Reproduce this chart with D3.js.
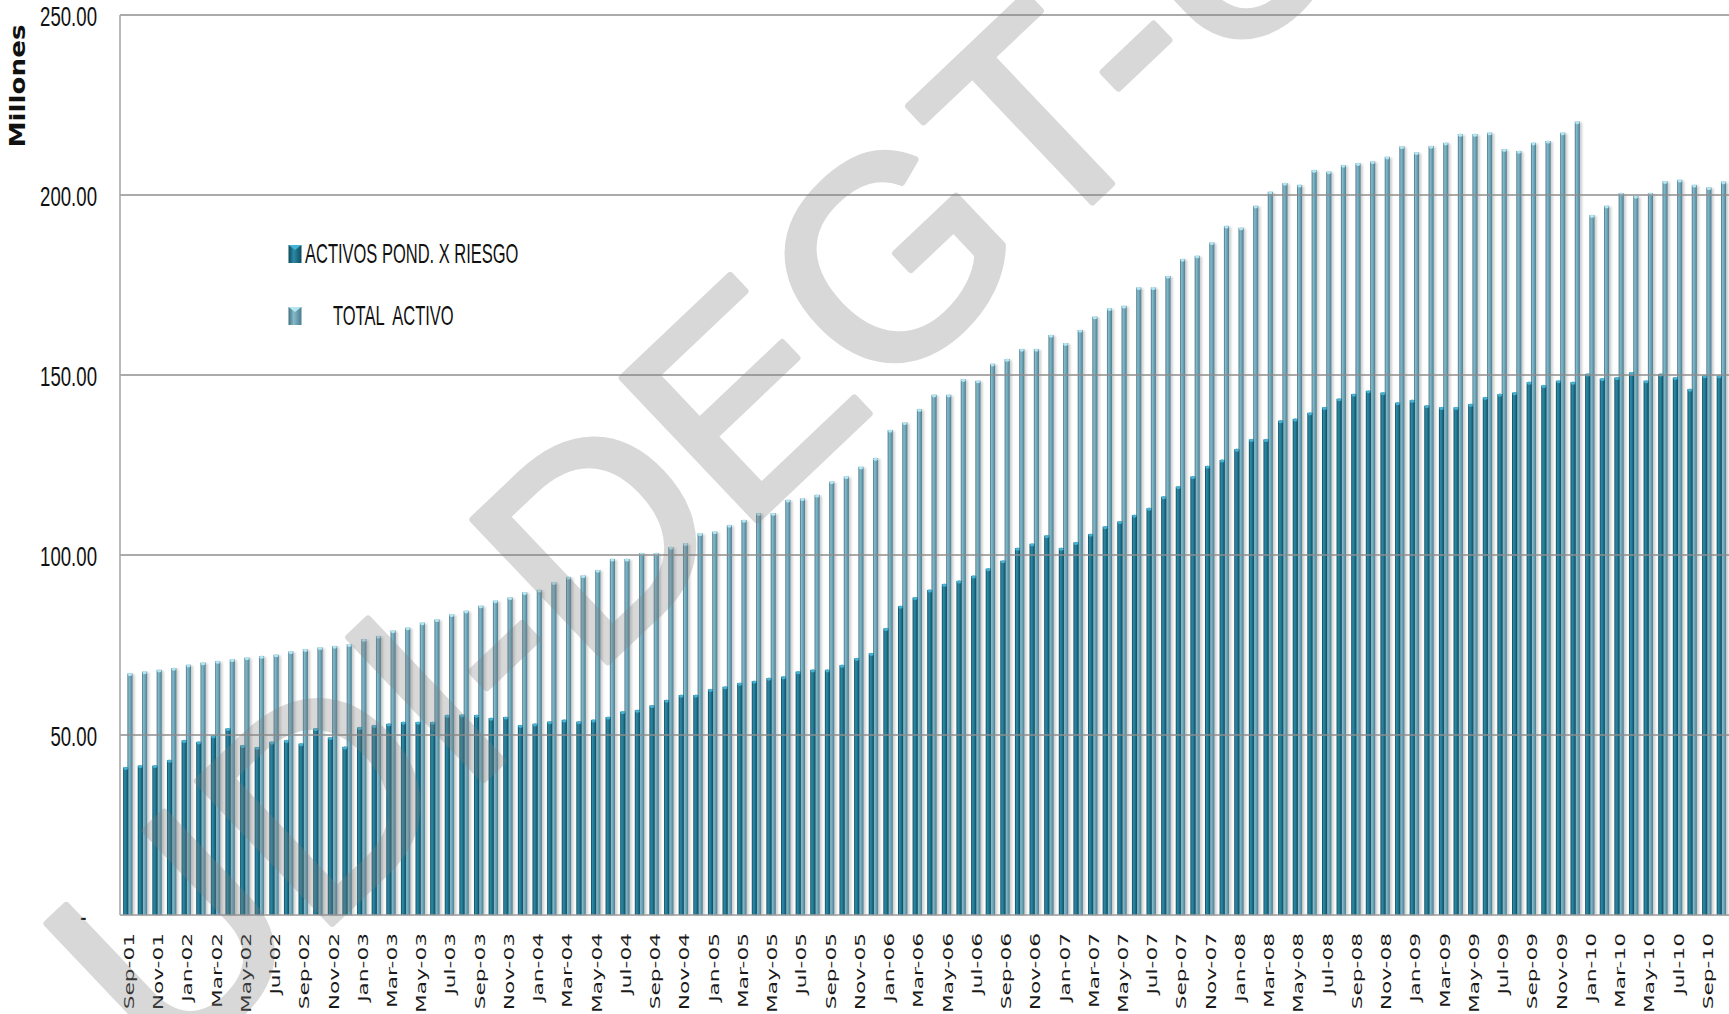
<!DOCTYPE html>
<html>
<head>
<meta charset="utf-8">
<script src="https://cdn.jsdelivr.net/npm/d3@7"></script>
<style>
  html, body { margin: 0; padding: 0; background: #ffffff; overflow: hidden; }
  svg { display: block; }
</style>
</head>
<body>
<svg id="chart" width="1729" height="1014"></svg>
<script>
// Monthly categories, Sep-01 .. Oct-10
const months = [
  "Sep-01","Oct-01","Nov-01","Dec-01",
  "Jan-02","Feb-02","Mar-02","Apr-02","May-02","Jun-02","Jul-02","Aug-02","Sep-02","Oct-02","Nov-02","Dec-02",
  "Jan-03","Feb-03","Mar-03","Apr-03","May-03","Jun-03","Jul-03","Aug-03","Sep-03","Oct-03","Nov-03","Dec-03",
  "Jan-04","Feb-04","Mar-04","Apr-04","May-04","Jun-04","Jul-04","Aug-04","Sep-04","Oct-04","Nov-04","Dec-04",
  "Jan-05","Feb-05","Mar-05","Apr-05","May-05","Jun-05","Jul-05","Aug-05","Sep-05","Oct-05","Nov-05","Dec-05",
  "Jan-06","Feb-06","Mar-06","Apr-06","May-06","Jun-06","Jul-06","Aug-06","Sep-06","Oct-06","Nov-06","Dec-06",
  "Jan-07","Feb-07","Mar-07","Apr-07","May-07","Jun-07","Jul-07","Aug-07","Sep-07","Oct-07","Nov-07","Dec-07",
  "Jan-08","Feb-08","Mar-08","Apr-08","May-08","Jun-08","Jul-08","Aug-08","Sep-08","Oct-08","Nov-08","Dec-08",
  "Jan-09","Feb-09","Mar-09","Apr-09","May-09","Jun-09","Jul-09","Aug-09","Sep-09","Oct-09","Nov-09","Dec-09",
  "Jan-10","Feb-10","Mar-10","Apr-10","May-10","Jun-10","Jul-10","Aug-10","Sep-10","Oct-10"
];

// Millones
const activosPond = [
  41.0, 41.5, 41.5, 43.0,
  48.5, 48.1, 49.8, 51.8, 47.1, 46.6, 48.1, 48.5, 47.6, 51.8, 49.3, 46.7,
  52.1, 52.7, 53.1, 53.6, 53.6, 53.6, 55.5, 55.6, 55.5, 54.7, 55.0, 52.7,
  53.1, 53.7, 54.2, 53.7, 54.2, 55.0, 56.5, 56.9, 58.2, 59.7, 61.1, 61.1,
  62.7, 63.4, 64.4, 65.0, 65.8, 66.2, 67.6, 68.1, 68.1, 69.4, 71.3, 72.7,
  79.6, 85.8, 88.2, 90.3, 91.9, 92.8, 94.2, 96.2, 98.4, 101.9, 103.1, 105.4,
  101.9, 103.5, 105.8, 107.9, 109.3, 111.1, 113.0, 116.2, 119.0, 121.8, 124.7, 126.4,
  129.4, 132.1, 132.1, 137.3, 137.8, 139.5, 141.0, 143.4, 144.7, 145.6, 145.1, 142.3,
  143.0, 141.5, 141.0, 141.0, 141.9, 143.8, 144.7, 145.1, 148.0, 147.1, 148.4, 148.0,
  150.3, 149.0, 149.3, 150.7, 148.4, 150.3, 149.3, 146.1, 149.8, 149.8
];

const totalActivo = [
  67.1, 67.6, 68.1, 68.6,
  69.5, 70.1, 70.5, 71.0, 71.5, 71.9, 72.3, 73.2, 73.8, 74.3, 74.7, 75.2,
  76.6, 77.5, 79.0, 79.8, 81.2, 82.1, 83.5, 84.5, 85.9, 87.3, 88.2, 89.6,
  90.3, 92.4, 93.9, 94.3, 95.8, 98.9, 98.9, 100.5, 100.5, 102.2, 103.2, 106.0,
  106.5, 108.3, 109.7, 111.6, 111.6, 115.3, 115.7, 116.7, 120.4, 121.8, 124.5, 126.9,
  134.7, 136.8, 140.5, 144.5, 144.5, 148.8, 148.4, 153.1, 154.4, 157.2, 157.2, 161.1,
  158.8, 162.5, 166.2, 168.5, 169.2, 174.3, 174.3, 177.5, 182.2, 183.1, 186.8, 191.4,
  190.9, 197.0, 200.9, 203.3, 202.8, 206.9, 206.5, 208.3, 208.8, 209.3, 210.6, 213.5,
  211.8, 213.6, 214.5, 216.9, 216.9, 217.3, 212.7, 212.2, 214.5, 215.0, 217.3, 220.4,
  194.4, 197.0, 200.5, 199.7, 200.5, 203.8, 204.2, 202.8, 202.1, 203.7
];

const seriesNames = ["ACTIVOS POND. X RIESGO", "TOTAL  ACTIVO"];
const yTicks = [0, 50, 100, 150, 200, 250];
const yTickLabels = ["-", "50.00", "100.00", "150.00", "200.00", "250.00"];
const yTitle = "Millones";
const watermarkText = "UDI-DEGT-UNAM";

const svg = d3.select("#chart");
const W = 1729, H = 1014;
const plotLeft = 120, plotTop = 15, plotBottom = 915;
const step = 14.62;
const xStart = 120.5;

const x = d3.scaleBand()
  .domain(months)
  .range([xStart, xStart + months.length * step])
  .paddingInner(0).paddingOuter(0);

const sub = d3.scaleBand()
  .domain(["pond", "total"])
  .range([0, x.bandwidth()])
  .paddingInner(0).paddingOuter(0.7);

const y = d3.scaleLinear().domain([0, 250]).range([plotBottom, plotTop]);

// ---------- gradients / filters ----------
const defs = svg.append("defs");
function hGrad(id, stops) {
  const g = defs.append("linearGradient").attr("id", id)
    .attr("x1", "0").attr("x2", "1").attr("y1", "0").attr("y2", "0");
  stops.forEach(s => g.append("stop").attr("offset", s[0]).attr("stop-color", s[1]));
}
hGrad("gPond", [["0%", "#0e4657"], ["30%", "#2a88a4"], ["55%", "#237c97"], ["100%", "#0f4b5e"]]);
hGrad("gTotal", [["0%", "#3f7284"], ["30%", "#86b9ca"], ["55%", "#72a7b9"], ["100%", "#4b7f92"]]);
defs.append("filter").attr("id", "soft").attr("x", "-50%").attr("y", "-5%").attr("width", "200%").attr("height", "110%")
  .append("feGaussianBlur").attr("stdDeviation", 1.3);

const rows = months.map((m, i) => ({ m, pond: activosPond[i], total: totalActivo[i] }));
const bw = sub.bandwidth() + 0.8;

// ---------- soft shadows behind bars ----------
const shadow = svg.append("g").attr("filter", "url(#soft)").attr("opacity", 0.28);
shadow.selectAll("rect.st").data(rows).join("rect")
  .attr("x", d => x(d.m) + sub("total") + 1.8)
  .attr("y", d => y(d.total) + 1)
  .attr("width", bw)
  .attr("height", d => y(0) - y(d.total) - 1)
  .attr("fill", "#555");
shadow.selectAll("rect.sp").data(rows).join("rect")
  .attr("x", d => x(d.m) + sub("pond") + 1.8)
  .attr("y", d => y(d.pond) + 1)
  .attr("width", bw)
  .attr("height", d => y(0) - y(d.pond) - 1)
  .attr("fill", "#333");

// ---------- bars ----------
const bars = svg.append("g");
// TOTAL ACTIVO (back)
bars.selectAll("rect.total").data(rows).join("rect").attr("class", "total")
  .attr("x", d => x(d.m) + sub("total") - 0.4)
  .attr("y", d => y(d.total))
  .attr("width", bw)
  .attr("height", d => y(0) - y(d.total))
  .attr("fill", "url(#gTotal)");
bars.selectAll("ellipse.total").data(rows).join("ellipse").attr("class", "total")
  .attr("cx", d => x(d.m) + sub("total") - 0.4 + bw / 2)
  .attr("cy", d => y(d.total) + 1)
  .attr("rx", bw / 2 - 0.4).attr("ry", 1.6)
  .attr("fill", "#b4e6f2");
// ACTIVOS POND. X RIESGO (front)
bars.selectAll("rect.pond").data(rows).join("rect").attr("class", "pond")
  .attr("x", d => x(d.m) + sub("pond") - 0.4)
  .attr("y", d => y(d.pond))
  .attr("width", bw)
  .attr("height", d => y(0) - y(d.pond))
  .attr("fill", "url(#gPond)");
bars.selectAll("ellipse.pond").data(rows).join("ellipse").attr("class", "pond")
  .attr("cx", d => x(d.m) + sub("pond") - 0.4 + bw / 2)
  .attr("cy", d => y(d.pond) + 1)
  .attr("rx", bw / 2 - 0.4).attr("ry", 1.6)
  .attr("fill", "#46b3d2");

// ---------- gridlines & axis lines ----------
const grid = svg.append("g");
grid.selectAll("line").data(yTicks.filter(v => v > 0)).join("line")
  .attr("x1", plotLeft).attr("x2", W)
  .attr("y1", d => y(d)).attr("y2", d => y(d))
  .attr("stroke", "#8e8e8e").attr("stroke-width", 1.6);
svg.append("line").attr("x1", plotLeft).attr("x2", W).attr("y1", y(0)).attr("y2", y(0))
  .attr("stroke", "#9a9a9a").attr("stroke-width", 1.6);
svg.append("line").attr("x1", plotLeft).attr("x2", plotLeft).attr("y1", y(250)).attr("y2", y(0))
  .attr("stroke", "#a8a8a8").attr("stroke-width", 1.6);

// ---------- y axis ----------
const yAxis = svg.append("g").attr("transform", "translate(97,0)")
  .call(d3.axisLeft(y).tickValues(yTicks).tickFormat((d, i) => yTickLabels[i]).tickSize(0).tickPadding(0));
yAxis.select(".domain").remove();
yAxis.selectAll("text")
  .attr("x", d => d === 0 ? -16 : 0)
  .attr("dy", "0.36em")
  .attr("transform", "scale(0.665,1)")
  .style("font-family", "'Liberation Sans', Arial, sans-serif")
  .style("font-size", "28px")
  .style("fill", "#111")
  .style("text-anchor", "end");

svg.append("text")
  .attr("transform", "translate(25,86) rotate(-90)")
  .attr("text-anchor", "middle")
  .attr("textLength", 123).attr("lengthAdjust", "spacingAndGlyphs")
  .style("font-family", "'DejaVu Sans', Verdana, sans-serif")
  .style("font-weight", "bold")
  .style("font-size", "22px")
  .style("fill", "#111")
  .text(yTitle);

// ---------- x axis ----------
const xAxis = svg.append("g").attr("transform", `translate(0,${plotBottom})`)
  .call(d3.axisBottom(x).tickValues(months.filter((d, i) => i % 2 === 0)).tickSize(0));
xAxis.select(".domain").remove();
xAxis.selectAll("text")
  .attr("x", 0).attr("y", 0).attr("dy", "0.36em")
  .attr("transform", "translate(1,18) rotate(-90) scale(1.55,1)")
  .style("text-anchor", "end")
  .style("font-family", "'DejaVu Sans', Verdana, sans-serif")
  .style("font-size", "14px")
  .style("fill", "#1a1a1a");

// ---------- legend ----------
hGrad("gPondKey", [["0%", "#0f4a5c"], ["40%", "#2a8aa6"], ["100%", "#0f4c5f"]]);
hGrad("gTotalKey", [["0%", "#40717f"], ["40%", "#86b9ca"], ["100%", "#4a7e90"]]);
const legend = svg.append("g");
const legendRows = [
  { name: seriesNames[0], grad: "url(#gPondKey)", cap: "#46b3d2", ky: 245, ty: 253.5, tx: 305 },
  { name: seriesNames[1], grad: "url(#gTotalKey)", cap: "#b4e6f2", ky: 307, ty: 315.5, tx: 333 }
];
legendRows.forEach(r => {
  legend.append("rect").attr("x", 288.5).attr("y", r.ky).attr("width", 13).attr("height", 18)
    .attr("fill", r.grad);
  legend.append("path")
    .attr("d", `M288.5,${r.ky} h13 l-6.5,5 z`)
    .attr("fill", r.cap);
  legend.append("text")
    .attr("transform", `translate(${r.tx},${r.ty}) scale(0.6,1)`)
    .attr("dy", "0.36em")
    .style("white-space", "pre")
    .style("font-family", "'Liberation Sans', Arial, sans-serif")
    .style("font-size", "27.5px")
    .style("fill", "#111")
    .text(r.name);
});

// ---------- watermark ----------
svg.append("text")
  .attr("transform", "translate(166,1081) rotate(-43.5)")
  .style("font-family", "'Liberation Sans', Arial, sans-serif")
  .style("font-weight", "normal")
  .style("font-size", "285px")
  .style("fill", "#808080")
  .style("stroke", "#808080")
  .style("stroke-width", 7)
  .style("stroke-linejoin", "round")
  .style("opacity", 0.3)
  .text(watermarkText);
</script>
</body>
</html>
